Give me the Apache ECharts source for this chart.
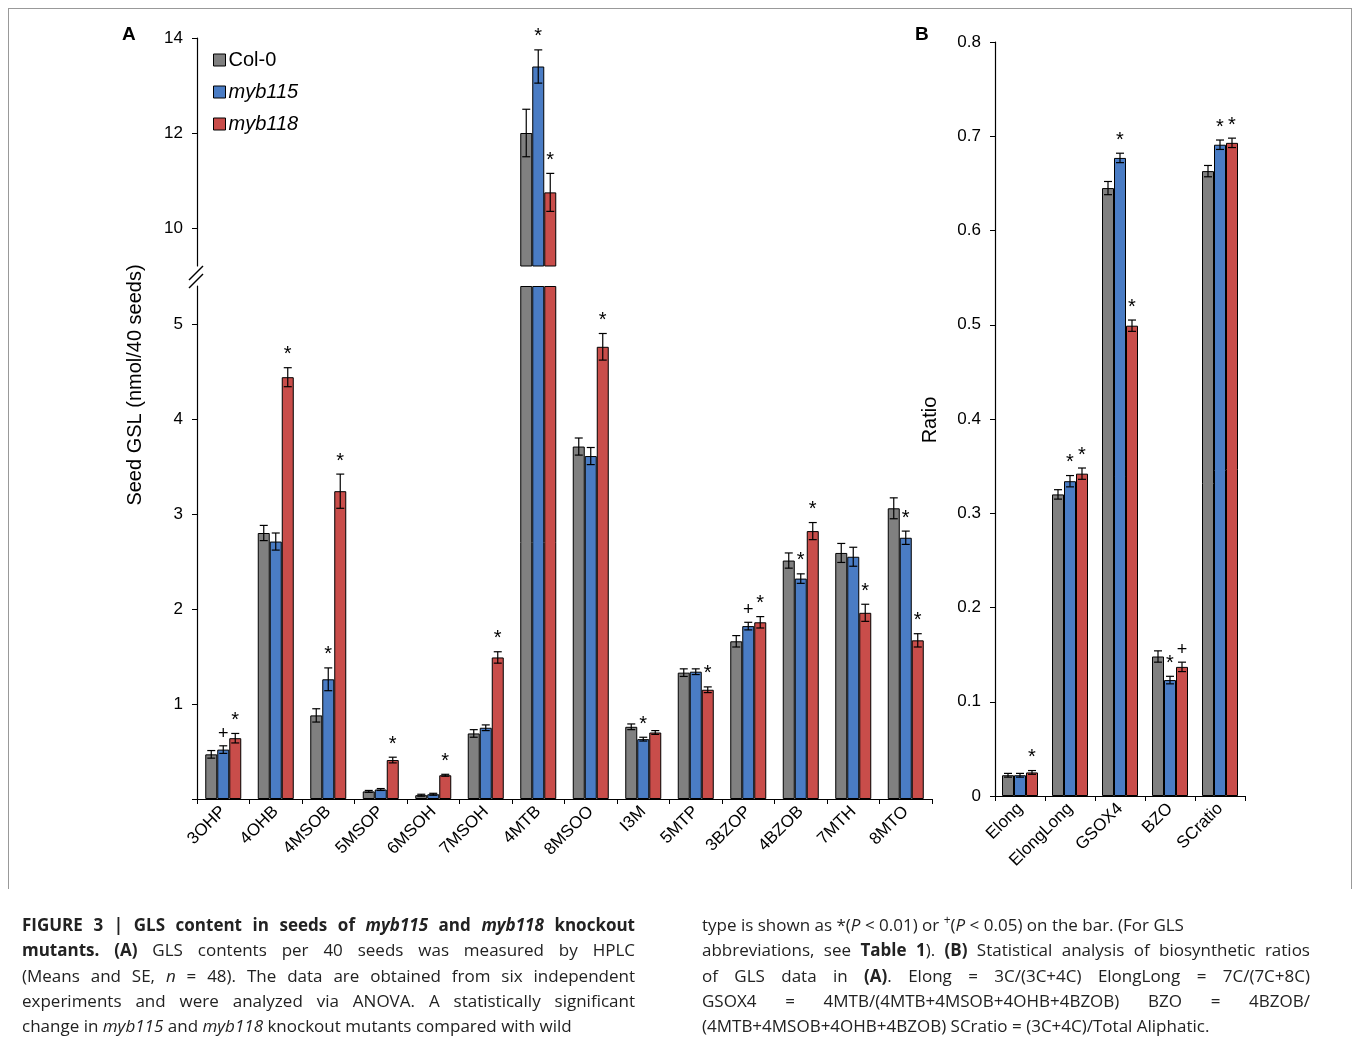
<!DOCTYPE html>
<html><head><meta charset="utf-8">
<script src="https://cdn.jsdelivr.net/npm/echarts@6/dist/echarts.min.js"></script>
<style>
body{margin:0;background:#fff;font-family:"Open Sans",Arial,sans-serif;}
#c{position:absolute;left:0;top:0;width:1358px;height:1041px;}
#frame{position:absolute;left:8px;top:8px;width:1342px;height:880px;border:1px solid #999;border-bottom:none;}
.cap{position:absolute;top:912px;font-size:17px;line-height:25.3px;color:#222;font-family:"Open Sans",sans-serif;}
.cap div{text-align:justify;text-align-last:justify;white-space:nowrap;}
.cap div.last{text-align-last:left;}
.cap sup{line-height:0;font-size:12px;}
</style></head><body>
<div id="frame"></div>
<div id="c"></div>
<div class="cap" style="left:22px;width:613px;">
<div style="white-space:normal"><b>FIGURE 3 | GLS content in seeds of <i>myb115</i> and <i>myb118</i> knockout</b></div>
<div><b>mutants. (A)</b> GLS contents per 40 seeds was measured by HPLC</div>
<div>(Means and SE, <i>n</i> = 48). The data are obtained from six independent</div>
<div>experiments and were analyzed via ANOVA. A statistically significant</div>
<div class="last">change in <i>myb115</i> and <i>myb118</i> knockout mutants compared with wild</div>
</div>
<div class="cap" style="left:702px;width:608px;">
<div class="last">type is shown as *(<i>P</i> &lt; 0.01) or <sup>+</sup>(<i>P</i> &lt; 0.05) on the bar. (For GLS</div>
<div>abbreviations, see <b>Table 1</b>). <b>(B)</b> Statistical analysis of biosynthetic ratios</div>
<div>of GLS data in <b>(A)</b>. Elong = 3C/(3C+4C) ElongLong = 7C/(7C+8C)</div>
<div>GSOX4 = 4MTB/(4MTB+4MSOB+4OHB+4BZOB) BZO = 4BZOB/</div>
<div class="last">(4MTB+4MSOB+4OHB+4BZOB) SCratio = (3C+4C)/Total Aliphatic.</div>
</div>
<script>
const catsA=['3OHP','4OHB','4MSOB','5MSOP','6MSOH','7MSOH','4MTB','8MSOO','I3M','5MTP','3BZOP','4BZOB','7MTH','8MTO'];
const colA=[0.47,2.80,0.88,0.08,0.04,0.69,12.0,3.71,0.76,1.33,1.66,2.51,2.59,3.06];
const colAErr=[0.04,0.08,0.07,0.01,0.01,0.04,0.5,0.09,0.03,0.04,0.06,0.08,0.1,0.11];
const m115A=[0.52,2.71,1.26,0.10,0.05,0.75,13.4,3.61,0.63,1.34,1.82,2.32,2.55,2.75];
const m115AErr=[0.04,0.09,0.12,0.01,0.01,0.03,0.35,0.09,0.02,0.03,0.04,0.05,0.1,0.07];
const m118A=[0.64,4.44,3.24,0.41,0.25,1.49,10.75,4.76,0.70,1.15,1.86,2.82,1.96,1.67];
const m118AErr=[0.05,0.1,0.18,0.03,0.01,0.06,0.4,0.14,0.02,0.03,0.06,0.09,0.09,0.07];
const colAMark=['','','','','','','','','','','','','',''];
const m115AMark=['+','','*','','','','*','','*','','+','*','','*'];
const m118AMark=['*','*','*','*','*','*','*','*','','*','*','*','*','*'];
const catsB=['Elong','ElongLong','GSOX4','BZO','SCratio'];
const colB=[0.022,0.320,0.645,0.148,0.663];
const colBErr=[0.002,0.005,0.007,0.006,0.006];
const m115B=[0.022,0.334,0.677,0.123,0.691];
const m115BErr=[0.002,0.006,0.005,0.004,0.005];
const m118B=[0.025,0.342,0.499,0.137,0.693];
const m118BErr=[0.002,0.006,0.006,0.005,0.005];
const colBMark=['','','','',''];
const m115BMark=['','*','*','*','*'];
const m118BMark=['*','*','*','+','*'];

const LOWMAX=5.4, UPMIN=9.2;
const colors=['#808080','#4a7cc4','#c94d4a'];
const names=['Col-0','myb115','myb118'];
const BW=12;
const chart=echarts.init(document.getElementById('c'));
function errSeries(vals,errs,marks,idx,xi,yi,lo,hi){
  return {type:'custom',xAxisIndex:xi,yAxisIndex:yi,silent:true,z:5,
    data:vals.map((v,i)=>[i,v]),
    renderItem:function(p,api){
      const i=p.dataIndex,v=vals[i],e=errs[i];
      if(v<lo||v>hi) return;
      const c=api.coord([i,v]);
      const x=c[0]+(idx-1)*BW;
      const t=api.coord([i,v+e])[1], b=api.coord([i,v-e])[1];
      const st={stroke:'#000',lineWidth:1.2};
      const ch=[
        {type:'line',shape:{x1:x,y1:t,x2:x,y2:b},style:st},
        {type:'line',shape:{x1:x-4,y1:t,x2:x+4,y2:t},style:st},
        {type:'line',shape:{x1:x-4,y1:b,x2:x+4,y2:b},style:st}];
      if(marks[i]) ch.push({type:'text',style:{text:marks[i],x:x,y:t-3,align:'center',verticalAlign:'bottom',fill:'#000',font:(marks[i]=='*'?'20px':'18px')+' "Liberation Sans"'}});
      return {type:'group',children:ch};
    }};
}
const series=[];
const dA=[[colA,colAErr,colAMark],[m115A,m115AErr,m115AMark],[m118A,m118AErr,m118AMark]];
const dB=[[colB,colBErr,colBMark],[m115B,m115BErr,m115BMark],[m118B,m118BErr,m118BMark]];
dA.forEach((d,k)=>{
  series.push({name:names[k],type:'bar',xAxisIndex:0,yAxisIndex:0,barWidth:BW,barGap:'0%',
    itemStyle:{color:colors[k],borderColor:'#000',borderWidth:1},
    data:d[0].map(v=>Math.min(v,LOWMAX))});
  series.push({name:names[k],type:'bar',xAxisIndex:1,yAxisIndex:1,barWidth:BW,barGap:'0%',
    itemStyle:{color:colors[k],borderColor:'#000',borderWidth:1},
    data:d[0].map(v=>v>UPMIN?v:'-')});
  series.push(errSeries(d[0],d[1],d[2],k,0,0,0,LOWMAX));
  series.push(errSeries(d[0],d[1],d[2],k,1,1,UPMIN,100));
});
dB.forEach((d,k)=>{
  series.push({name:names[k],type:'bar',xAxisIndex:2,yAxisIndex:2,barWidth:BW,barGap:'0%',
    itemStyle:{color:colors[k],borderColor:'#000',borderWidth:1},data:d[0]});
  series.push(errSeries(d[0],d[1],d[2],k,2,2,0,1));
});
const axLine={lineStyle:{color:'#000',width:1.2}};
const lab={color:'#000',fontSize:17,fontFamily:'Liberation Sans'};
option={
  animation:false,
  grid:[{left:197,width:735,top:286,height:513},{left:197,width:735,top:38,height:228},{left:995,width:250,top:42,height:754}],
  xAxis:[
    {type:'category',gridIndex:0,data:catsA,axisLine:axLine,axisTick:{show:true,length:5,lineStyle:{color:'#000'}},
      axisLabel:Object.assign({rotate:45,margin:10,interval:0},lab)},
    {type:'category',gridIndex:1,data:catsA,show:false},
    {type:'category',gridIndex:2,data:catsB,axisLine:axLine,axisTick:{show:true,length:5,lineStyle:{color:'#000'}},
      axisLabel:Object.assign({rotate:45,margin:10,interval:0},lab)}],
  yAxis:[
    {type:'value',gridIndex:0,min:0,max:LOWMAX,interval:1,axisLine:Object.assign({show:true},axLine),
      axisTick:{show:true,length:5,lineStyle:{color:'#000'},customValues:[0,1,2,3,4,5]},splitLine:{show:false},
      axisLabel:Object.assign({margin:14,customValues:[1,2,3,4,5]},lab)},
    {type:'value',gridIndex:1,min:UPMIN,max:14,axisLine:Object.assign({show:true},axLine),
      axisTick:{show:true,length:5,lineStyle:{color:'#000'},customValues:[10,12,14]},splitLine:{show:false},
      axisLabel:Object.assign({margin:14,customValues:[10,12,14]},lab)},
    {type:'value',gridIndex:2,min:0,max:0.8,interval:0.1,axisLine:Object.assign({show:true},axLine),
      axisTick:{show:true,length:5,lineStyle:{color:'#000'}},splitLine:{show:false},
      axisLabel:Object.assign({margin:14,formatter:v=>v===0?'0':String(+v.toFixed(1))},lab)}],
  legend:{orient:'vertical',left:208,top:45,itemWidth:12,itemHeight:12,itemGap:12,icon:'rect',
    data:names,itemStyle:{borderColor:'#000',borderWidth:1},
    formatter:n=>n==='Col-0'?n:'{i|'+n+'}',
    textStyle:{color:'#000',fontSize:20,fontFamily:'Liberation Sans',padding:[0,0,0,-2],rich:{i:{fontStyle:'italic',fontSize:20,color:'#000'}}}},
  graphic:[
    {type:'text',left:122,top:25,style:{text:'A',font:'bold 19px "Liberation Sans"',fill:'#000'}},
    {type:'text',left:915,top:25,style:{text:'B',font:'bold 19px "Liberation Sans"',fill:'#000'}},
    {type:'text',x:135,y:385,rotation:Math.PI/2,style:{text:'Seed GSL (nmol/40 seeds)',font:'20px "Liberation Sans"',fill:'#000',align:'center',verticalAlign:'middle'}},
    {type:'text',x:930,y:420,rotation:Math.PI/2,style:{text:'Ratio',font:'20px "Liberation Sans"',fill:'#000',align:'center',verticalAlign:'middle'}},
    {type:'rect',shape:{x:185,y:267,width:24,height:18},style:{fill:'#fff'}},
    {type:'line',shape:{x1:189,y1:280,x2:203,y2:266},style:{stroke:'#000',lineWidth:1.5}},
    {type:'line',shape:{x1:189,y1:288,x2:203,y2:274},style:{stroke:'#000',lineWidth:1.5}}
  ],
  series:series
};
chart.setOption(option);
</script></body></html>
